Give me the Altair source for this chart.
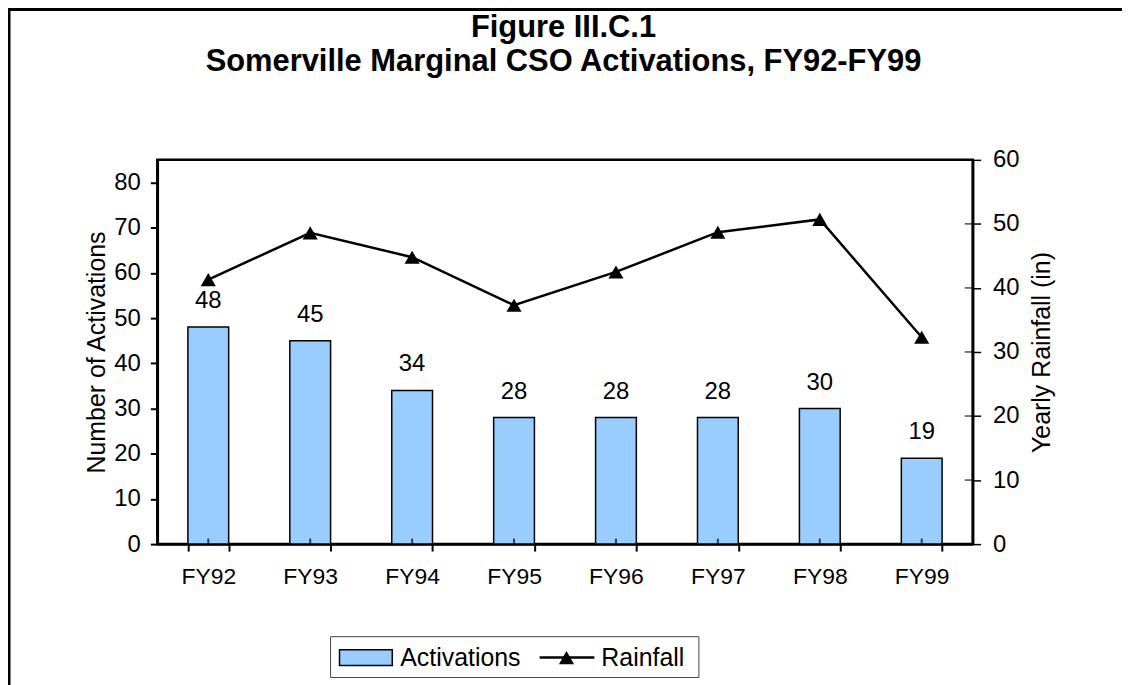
import altair as alt
import pandas as pd

years = ["FY92", "FY93", "FY94", "FY95", "FY96", "FY97", "FY98", "FY99"]
activations = [48, 45, 34, 28, 28, 28, 30, 19]
rainfall = [41.3, 48.6, 44.8, 37.3, 42.5, 48.7, 50.7, 32.3]
rain_ticks = [0, 10, 20, 30, 40, 50, 60]
title_lines = ["Figure III.C.1", "Somerville Marginal CSO Activations, FY92-FY99"]

df = pd.DataFrame({"year": years, "act": activations, "rain": rainfall})
tdf = pd.DataFrame({"rain": rain_ticks})
one = pd.DataFrame({"k": [0]})

FONT = "Liberation Sans"
W, H = 819, 386

x = alt.X("year:N", sort=years, title=None,
          scale=alt.Scale(paddingInner=0.6, paddingOuter=0.3),
          axis=alt.Axis(labelAngle=0, labelFontSize=23, labelFont=FONT, labelColor="black",
                        labelPadding=15, tickBand="extent", tickSize=7, tickColor="black",
                        tickWidth=2, domainColor="black", domainWidth=2.5))

yl = alt.Y("act:Q", title="Number of Activations",
           scale=alt.Scale(domain=[0, 85], nice=False),
           axis=alt.Axis(values=list(range(0, 81, 10)), labelFontSize=24, labelFont=FONT,
                         labelColor="black", labelPadding=10, tickSize=7, tickColor="black",
                         tickWidth=2, domainColor="black", domainWidth=2.5, grid=False,
                         titleFontSize=25, titleFont=FONT, titleFontWeight="normal",
                         titleColor="black", titlePadding=4))

bars = alt.Chart(df).mark_bar(color="#99CCFF", stroke="black", strokeWidth=1.5).encode(x=x, y=yl)
labels = alt.Chart(df).mark_text(font=FONT, fontSize=24, dy=-19, baseline="alphabetic",
                                 color="black").encode(x=x, y=yl, text="act:Q")
ctr_ticks = alt.Chart(df).mark_tick(orient="vertical", color="black", size=5, thickness=2).encode(
    x=x, y=alt.value(H - 3))

yr = alt.Y("rain:Q", title="Yearly Rainfall (in)",
           scale=alt.Scale(domain=[0, 60], nice=False),
           axis=alt.Axis(orient="right", values=rain_ticks, labelFontSize=24,
                         labelFont=FONT, labelColor="black", labelPadding=12, tickSize=8,
                         tickColor="black", tickWidth=1.5, domainColor="black", domainWidth=2.5,
                         grid=False, titleFontSize=25, titleFont=FONT, titleFontWeight="normal",
                         titleColor="black", titlePadding=10, titleAngle=270, titleBaseline="top"))

line = alt.Chart(df).mark_line(color="black", strokeWidth=2.5).encode(x=x, y=yr)
pts = alt.Chart(df).mark_point(shape="triangle-up", filled=True, color="black", size=230,
                               opacity=1).encode(x=x, y=yr)
inner = alt.Chart(tdf).mark_tick(orient="horizontal", color="black", size=8, thickness=1.5).encode(
    x=alt.value(W - 4), y=yr)

left = alt.layer(bars, labels, ctr_ticks)
right = alt.layer(line, pts, inner)

# decorations: outer frame, title lines and legend box (pixel positions, not data)
frame = alt.Chart(one).mark_rect(fill="transparent", stroke="black", strokeWidth=3).encode(
    x=alt.value(-149), x2=alt.value(1400), y=alt.value(-151), y2=alt.value(900))
t1 = alt.Chart(one).mark_text(text=title_lines[0], font=FONT, fontSize=31, fontWeight="bold",
                              align="center", baseline="middle", color="black").encode(
    x=alt.value(408), y=alt.value(-132))
t2 = alt.Chart(one).mark_text(text=title_lines[1], font=FONT, fontSize=31, fontWeight="bold",
                              align="center", baseline="middle", color="black").encode(
    x=alt.value(408), y=alt.value(-98))
legbox = alt.Chart(one).mark_rect(fill="white", stroke="#444", strokeWidth=1).encode(
    x=alt.value(174), x2=alt.value(544), y=alt.value(479), y2=alt.value(520))
legswatch = alt.Chart(one).mark_rect(fill="#99CCFF", stroke="black", strokeWidth=1.5).encode(
    x=alt.value(183), x2=alt.value(236), y=alt.value(492), y2=alt.value(508))
legtext1 = alt.Chart(one).mark_text(text="Activations", font=FONT, fontSize=25, align="left",
                                    baseline="middle", color="black").encode(
    x=alt.value(244), y=alt.value(500))
legline = alt.Chart(one).mark_rule(color="black", strokeWidth=2.5).encode(
    x=alt.value(384), x2=alt.value(439), y=alt.value(500))
legtri = alt.Chart(one).mark_point(shape="triangle-up", filled=True, color="black", size=230,
                                   opacity=1).encode(x=alt.value(411), y=alt.value(500))
legtext2 = alt.Chart(one).mark_text(text="Rainfall", font=FONT, fontSize=25, align="left",
                                    baseline="middle", color="black").encode(
    x=alt.value(446), y=alt.value(500))

deco = alt.layer(frame, t1, t2, legbox, legswatch, legtext1, legline, legtri, legtext2)

chart = alt.layer(left, right, deco).resolve_scale(y="independent").properties(
    width=W, height=H,
    background="white",
    autosize=alt.AutoSizeParams(type="none"),
    padding={"left": 150, "top": 151, "right": 150, "bottom": 140},
).configure_view(stroke="black", strokeWidth=2.5)

chart.save("out.html", embed_options={"renderer": "svg", "actions": False})
